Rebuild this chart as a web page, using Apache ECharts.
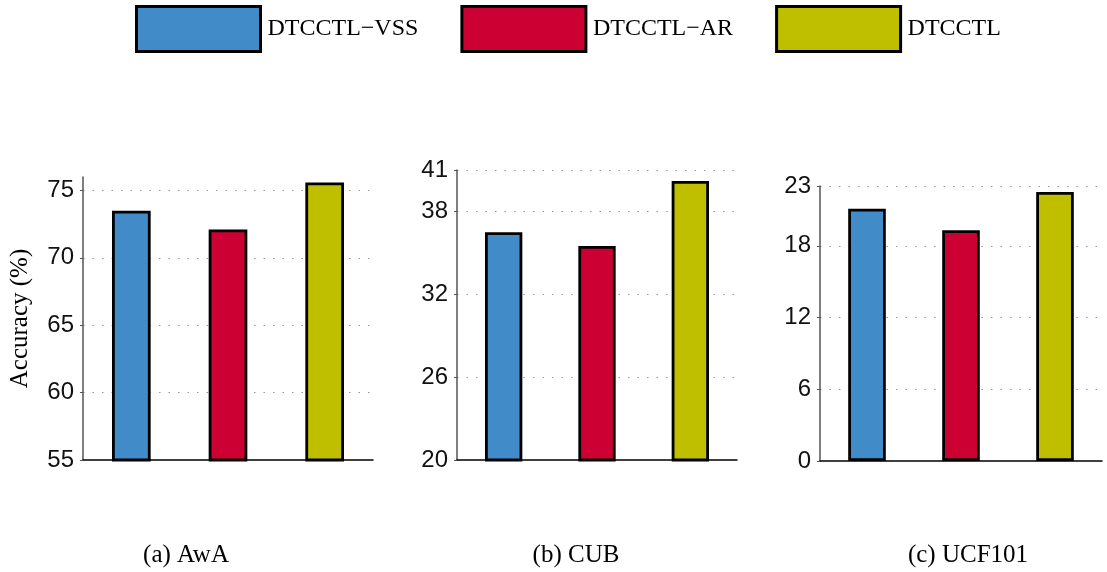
<!DOCTYPE html>
<html>
<head>
<meta charset="utf-8">
<script src="https://cdn.jsdelivr.net/npm/echarts@6/dist/echarts.min.js"></script>
<style>html,body{margin:0;padding:0;background:#fff}#c{width:1107px;height:572px}</style>
</head>
<body>
<div id="c"></div>
<script>
const methods = ['DTCCTL\u2212VSS', 'DTCCTL\u2212AR', 'DTCCTL'];
const colors = ['#418bc8', '#cc0033', '#bfbf00'];
const datasets = ['(a) AwA', '(b) CUB', '(c) UCF101'];
const awaValues = [73.5, 72.1, 75.6];
const cubValues = [36.5, 35.5, 40.2];
const ucfValues = [21.1, 19.3, 22.5];
const yMins = [55, 20, 0];
const yMaxs = [76, 41, 23];
const yIntervals = [5, 6, 6];
const showMaxTick = [false, true, true];

const allValues = [awaValues, cubValues, ucfValues];
const grids = [
  {left: 83, width: 290, top: 177, height: 283},
  {left: 457, width: 280, top: 170, height: 290},
  {left: 820, width: 282, top: 186, height: 275}
];
const captionX = [186, 576, 968];

const xAxes = [], yAxes = [], series = [];
grids.forEach((g, gi) => {
  xAxes.push({
    type: 'category', gridIndex: gi, data: methods,
    axisLine: {lineStyle: {color: '#000', width: 1.5}},
    axisTick: {show: false}, axisLabel: {show: false}, splitLine: {show: false}
  });
  yAxes.push({
    type: 'value', gridIndex: gi, min: yMins[gi], max: yMaxs[gi], interval: yIntervals[gi],
    name: gi === 0 ? 'Accuracy (%)' : '',
    nameLocation: 'middle', nameGap: 50,
    nameTextStyle: {fontFamily: 'Liberation Serif', fontSize: 25, color: '#000'},
    axisLine: {show: true, lineStyle: {color: '#555', width: 1.5}},
    axisTick: {show: true, length: 3, lineStyle: {color: '#555'}},
    axisLabel: {
      fontFamily: 'Liberation Sans', fontSize: 24, color: '#111', margin: 9,
      showMaxLabel: showMaxTick[gi]
    },
    splitLine: {show: true, showMaxLine: showMaxTick[gi], showMinLine: false,
      lineStyle: {color: '#999', width: 1, type: [1.5, 8]}}
  });
  methods.forEach((m, mi) => {
    const d = methods.map((_, k) => k === mi ? allValues[gi][k] : null);
    series.push({
      name: m, type: 'bar', xAxisIndex: gi, yAxisIndex: gi,
      data: d, barWidth: '40%', barGap: '-100%',
      itemStyle: {color: colors[mi], borderColor: '#000', borderWidth: 2.8},
      emphasis: {disabled: true}
    });
  });
});

const chart = echarts.init(document.getElementById('c'), null, {renderer: 'canvas'});
chart.setOption({
  animation: false,
  color: colors,
  legend: {
    data: methods, left: 130, top: 0,
    itemWidth: 124, itemHeight: 45, itemGap: 42,
    icon: 'rect',
    itemStyle: {borderColor: '#000', borderWidth: 3},
    textStyle: {fontFamily: 'Liberation Serif', fontSize: 24, color: '#000', padding: [4, 0, 0, 2]}
  },
  grid: grids,
  xAxis: xAxes,
  yAxis: yAxes,
  series: series,
  graphic: datasets.map((t, i) => ({
    type: 'text', x: captionX[i], y: 555,
    style: {text: t, fontFamily: 'Liberation Serif', fontSize: 25, fill: '#000',
      textAlign: 'center', textVerticalAlign: 'middle'}
  }))
});
</script>
</body>
</html>
